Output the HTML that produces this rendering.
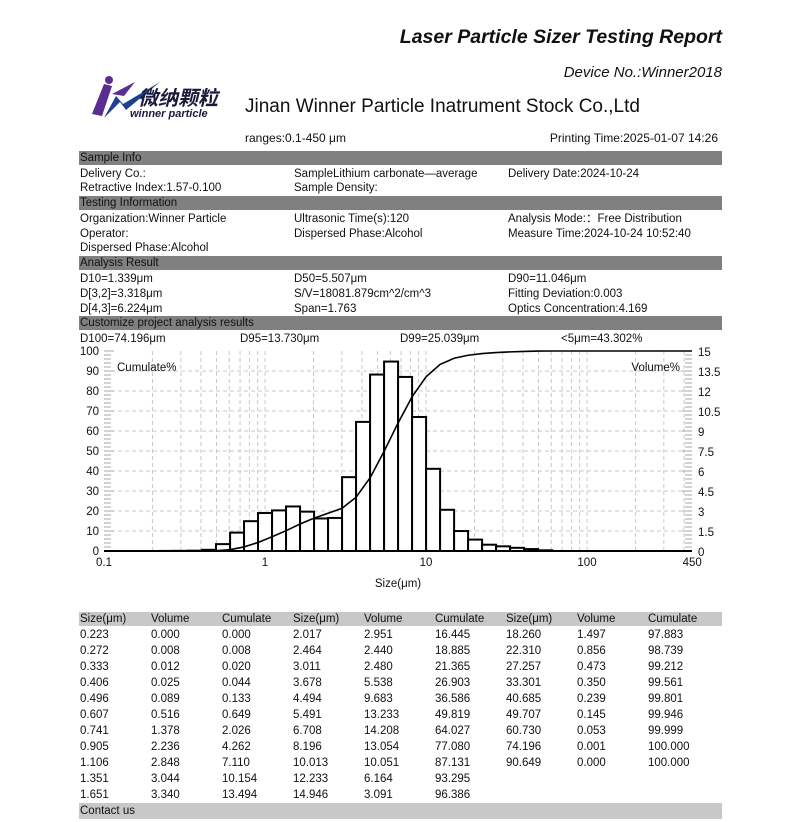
<!DOCTYPE html>
<html><head><meta charset="utf-8"><style>
body{margin:0;background:#fff;width:802px;height:822px;position:relative;overflow:hidden;font-family:"Liberation Sans","Noto Sans CJK SC",sans-serif;color:#111}
.a{position:absolute;white-space:nowrap;font-size:11.5px;line-height:14px}
.bar{position:absolute;left:79px;width:643px;height:14px;background:#808080}
.lb{background:#c8c8c8}
</style></head><body>
<div class="a" style="right:80px;top:25px;font-size:19.5px;line-height:24px;font-weight:bold;font-style:italic">Laser Particle Sizer Testing Report</div>
<div class="a" style="right:80px;top:64px;font-size:15px;line-height:18px;font-style:italic">Device No.:Winner2018</div>
<svg style="position:absolute;left:90px;top:74px" width="150" height="48">
<path d="M2,40 L14,10 L22,12 L12,42Z" fill="#5b2d91"/>
<circle cx="19" cy="6" r="4" fill="#5b2d91"/>
<path d="M14,44 L26,22 L33,30 L70,8 L36,36 L30,28Z" fill="#1f3f8f"/>
<path d="M22,20 L45,8 L34,22Z" fill="#5b2d91"/>
<text x="48" y="31" font-family="Noto Sans CJK SC,sans-serif" font-size="20" font-weight="bold" font-style="italic" fill="#1a1a3a">微纳颗粒</text>
<text x="40" y="43" font-family="Liberation Sans,sans-serif" font-size="11" font-weight="bold" font-style="italic" fill="#1a1a3a">winner particle</text>
</svg>
<div class="a" style="left:245px;top:95px;font-size:19px;line-height:24px">Jinan Winner Particle Inatrument Stock Co.,Ltd</div>
<div class="a" style="left:245px;top:131px;font-size:12px">ranges:0.1-450 μm</div>
<div class="a" style="right:84px;top:131px;font-size:12px">Printing Time:2025-01-07 14:26</div>

<div class="bar" style="top:151px"></div><div class="a" style="left:80px;top:151px">Sample Info</div>
<div class="a" style="left:80px;top:167px">Delivery Co.:</div><div class="a" style="left:294px;top:167px">SampleLithium carbonate—average</div><div class="a" style="left:508px;top:167px">Delivery Date:2024-10-24</div>
<div class="a" style="left:80px;top:181px">Retractive Index:1.57-0.100</div><div class="a" style="left:294px;top:181px">Sample Density:</div>
<div class="bar" style="top:196px"></div><div class="a" style="left:80px;top:196px">Testing Information</div>
<div class="a" style="left:80px;top:212px">Organization:Winner Particle</div><div class="a" style="left:294px;top:212px">Ultrasonic Time(s):120</div><div class="a" style="left:508px;top:212px">Analysis Mode:：Free Distribution</div>
<div class="a" style="left:80px;top:227px">Operator:</div><div class="a" style="left:294px;top:227px">Dispersed Phase:Alcohol</div><div class="a" style="left:508px;top:227px">Measure Time:2024-10-24 10:52:40</div>
<div class="a" style="left:80px;top:241px">Dispersed Phase:Alcohol</div>
<div class="bar" style="top:256px"></div><div class="a" style="left:80px;top:256px">Analysis Result</div>
<div class="a" style="left:80px;top:272px">D10=1.339μm</div><div class="a" style="left:294px;top:272px">D50=5.507μm</div><div class="a" style="left:508px;top:272px">D90=11.046μm</div>
<div class="a" style="left:80px;top:287px">D[3,2]=3.318μm</div><div class="a" style="left:294px;top:287px">S/V=18081.879cm^2/cm^3</div><div class="a" style="left:508px;top:287px">Fitting Deviation:0.003</div>
<div class="a" style="left:80px;top:302px">D[4,3]=6.224μm</div><div class="a" style="left:294px;top:302px">Span=1.763</div><div class="a" style="left:508px;top:302px">Optics Concentration:4.169</div>
<div class="bar" style="top:316px"></div><div class="a" style="left:80px;top:316px">Customize project analysis results</div>
<div class="a" style="left:80px;top:332px">D100=74.196μm</div><div class="a" style="left:240px;top:332px">D95=13.730μm</div><div class="a" style="left:400px;top:332px">D99=25.039μm</div><div class="a" style="left:561px;top:332px">&lt;5μm=43.302%</div>

<svg id="ch" style="position:absolute;left:0;top:0" width="802" height="600"></svg>

<div class="bar lb" style="top:612px"></div>
<div id="tb"></div>
<div class="bar lb" style="top:803px;height:16px"></div><div class="a" style="left:80px;top:804px">Contact us</div>
<script>
var S=[0.223,0.272,0.333,0.406,0.496,0.607,0.741,0.905,1.106,1.351,1.651,2.017,2.464,3.011,3.678,4.494,5.491,6.708,8.196,10.013,12.233,14.946,18.260,22.310,27.257,33.301,40.685,49.707,60.730,74.196,90.649];
var V=[0.000,0.008,0.012,0.025,0.089,0.516,1.378,2.236,2.848,3.044,3.340,2.951,2.440,2.480,5.538,9.683,13.233,14.208,13.054,10.051,6.164,3.091,1.497,0.856,0.473,0.350,0.239,0.145,0.053,0.001,0.000];
var C=[0.000,0.008,0.020,0.044,0.133,0.649,2.026,4.262,7.110,10.154,13.494,16.445,18.885,21.365,26.903,36.586,49.819,64.027,77.080,87.131,93.295,96.386,97.883,98.739,99.212,99.561,99.801,99.946,99.999,100.000,100.000];
function X(s){return 104+161*Math.log10(s/0.1)}
var L=104,R=692,T=351,B=551,h='';
h+='<g stroke="#c8c8c8" stroke-dasharray="4,3" stroke-width="1">';
for(var d=0.1;d<500;d*=10)for(var k=1;k<10;k++){var s=d*k;if(s>450)break;var x=X(s);if(x>L+1&&x<R-1)h+='<line x1="'+x+'" y1="'+T+'" x2="'+x+'" y2="'+B+'"/>'}
for(var i=1;i<10;i++){var y=B-i*20;h+='<line x1="'+L+'" y1="'+y+'" x2="'+R+'" y2="'+y+'"/>'}
h+='</g><g stroke="#aaa">';
for(var i=0;i<=50;i++){var y=B-i*4;var l=i%5==0?10:7;h+='<line x1="'+L+'" y1="'+y+'" x2="'+(L+l)+'" y2="'+y+'"/><line x1="'+(R-l)+'" y1="'+y+'" x2="'+R+'" y2="'+y+'"/>'}
h+='</g>';
for(var i=1;i<S.length;i++){if(V[i]<=0)continue;var x1=X(S[i-1]),x2=X(S[i]),y=B-V[i]/15*200;h+='<rect x="'+x1+'" y="'+y+'" width="'+(x2-x1)+'" height="'+(B-y)+'" fill="#fff" stroke="#000" stroke-width="2"/>'}
var p='';for(var i=0;i<S.length;i++)p+=X(S[i])+','+(B-C[i]*2)+' ';p+=R+','+T;
h+='<polyline points="'+p+'" fill="none" stroke="#000" stroke-width="1.6"/>';
h+='<line x1="'+L+'" y1="'+B+'" x2="'+R+'" y2="'+B+'" stroke="#000" stroke-width="2"/>';
h+='<g font-family="Liberation Sans,sans-serif" font-size="11.5" fill="#111">';
for(var i=0;i<=10;i++)h+='<text x="99" y="'+(B-i*20+4)+'" text-anchor="end">'+(i*10)+'</text>';
var rl=['0','1.5','3','4.5','6','7.5','9','10.5','12','13.5','15'];
for(var i=0;i<=10;i++)h+='<text x="698" y="'+(B-i*20+5)+'">'+rl[i]+'</text>';
[['0.1',0.1],['1',1],['10',10],['100',100],['450',450]].forEach(function(a){h+='<text x="'+X(a[1])+'" y="566" text-anchor="middle">'+a[0]+'</text>'});
h+='<text x="117" y="371">Cumulate%</text><text x="680" y="371" text-anchor="end">Volume%</text>';
h+='<text x="398" y="587" text-anchor="middle">Size(μm)</text></g>';
document.getElementById('ch').innerHTML=h;
var cx=[80,151,222,293,364,435,506,577,648],t='',hd=['Size(μm)','Volume','Cumulate'];
for(var c=0;c<9;c++)t+='<div class="a" style="left:'+cx[c]+'px;top:612px">'+hd[c%3]+'</div>';
for(var g=0;g<3;g++)for(var r=0;r<11;r++){var i=g*11+r;if(i>=S.length)break;var y=628+r*16;
t+='<div class="a" style="left:'+cx[g*3]+'px;top:'+y+'px">'+S[i].toFixed(3)+'</div><div class="a" style="left:'+cx[g*3+1]+'px;top:'+y+'px">'+V[i].toFixed(3)+'</div><div class="a" style="left:'+cx[g*3+2]+'px;top:'+y+'px">'+C[i].toFixed(3)+'</div>'}
document.getElementById('tb').innerHTML=t;
</script>
</body></html>
